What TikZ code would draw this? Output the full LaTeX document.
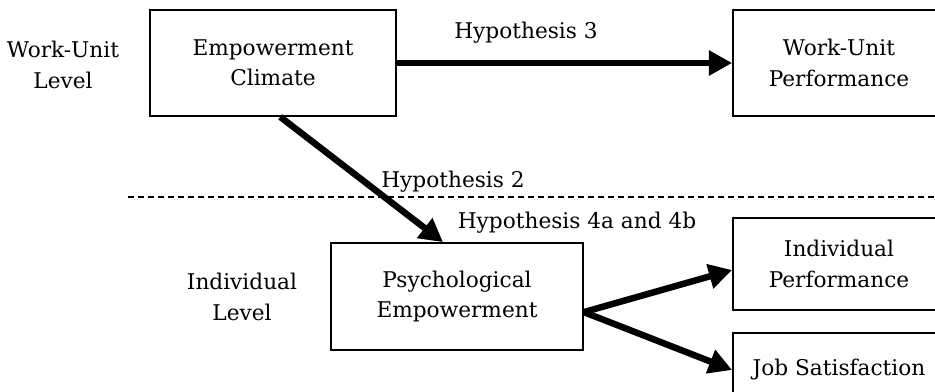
\documentclass[tikz,border=0pt]{standalone}
\usepackage{fontspec}
\setmainfont{DejaVu Serif}
\usetikzlibrary{arrows.meta,positioning}

\begin{document}
\begin{tikzpicture}[x=0.025cm, y=-0.025cm, font=\fontsize{15.4}{21.5}\selectfont]
    \tikzstyle{box} = [rectangle, draw, line width=1.2pt, align=center, inner sep=0pt]
    \tikzstyle{level} = [align=center]
    \tikzstyle{hyp} = [anchor=base]
    \tikzstyle{link} = [line width=4.6pt, -{Triangle[length=0.58cm, width=0.6cm]}]

    \useasboundingbox (0,0) rectangle (935,392);
    \clip (0,0) rectangle (935,392);

    % Work-unit level
    \node [level] (wu_level) at (63,65) {Work-Unit\\Level};
    \node [box, minimum width=6.15cm, minimum height=2.65cm] (climate) at (273,63) {Empowerment\\Climate};
    \node [box, minimum width=5.3cm, minimum height=2.65cm] (wu_perf) at (839,63) {Work-Unit\\Performance};

    % Separator between levels
    \draw [dash pattern=on 0.15cm off 0.1cm, line width=0.8pt] (128,197) -- (935,197);

    % Individual level
    \node [level] (ind_level) at (242,297) {Individual\\Level};
    \node [box, minimum width=6.3cm, minimum height=2.675cm] (psych) at (457,296.5) {Psychological\\Empowerment};
    \node [box, minimum width=5.3cm, minimum height=2.3cm] (ind_perf) at (839,264) {Individual\\Performance};
    \node [box, minimum width=5.3cm, minimum height=1.85cm] (job_sat) at (839,370) {Job Satisfaction};

    % Hypothesis labels
    \node [hyp] (h3) at (526,39) {Hypothesis 3};
    \node [hyp] (h2) at (453,188) {Hypothesis 2};
    \node [hyp] (h4) at (577,229) {Hypothesis 4a and 4b};

    % Arrows
    \coordinate (fork) at ([yshift=-0.39cm]psych.east);
    \draw [link] (climate) -- (wu_perf);
    \draw [link] ([xshift=0.18cm]climate.south) -- ([xshift=-0.35cm]psych.north);
    \draw [link] (fork) -- ([yshift=-0.15cm]ind_perf.west);
    \draw [link] (fork) -- (job_sat.west);
\end{tikzpicture}
\end{document}
